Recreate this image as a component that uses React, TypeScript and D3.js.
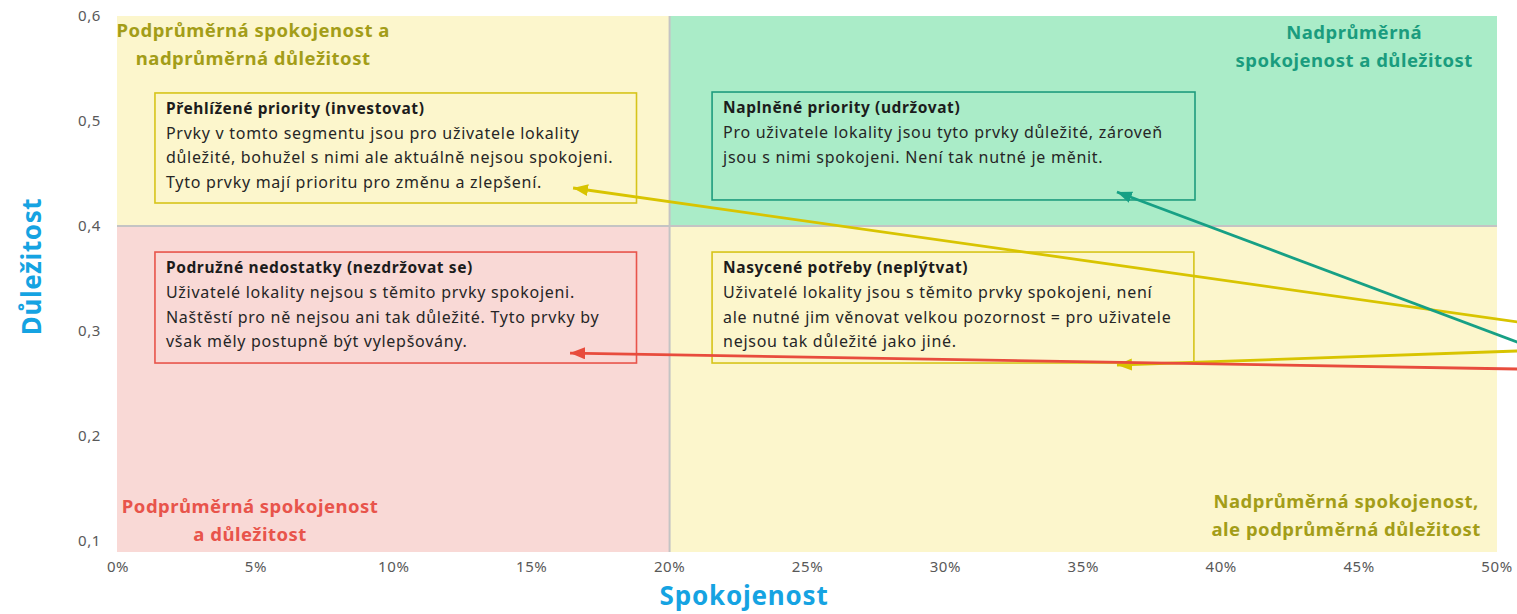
import React from "react";
import * as d3 from "d3";

// ---------- data ----------
const xTicks = [0, 0.05, 0.1, 0.15, 0.2, 0.25, 0.3, 0.35, 0.4, 0.45, 0.5];
const yTicks = [0.1, 0.2, 0.3, 0.4, 0.5, 0.6];
const xDomain = [0, 0.5];
const yDomain = [0.1, 0.6];
const xMid = 0.2; // average satisfaction
const yMid = 0.4; // average importance

const xTitle = "Spokojenost";
const yTitle = "Důležitost";

const quadrantNames = ["tl", "tr", "bl", "br"];
const quadrantLabels = [
  ["Podprůměrná spokojenost a", "nadprůměrná důležitost"],
  ["Nadprůměrná", "spokojenost a důležitost"],
  ["Podprůměrná spokojenost", "a důležitost"],
  ["Nadprůměrná spokojenost,", "ale podprůměrná důležitost"],
];
// label anchors in data units [x center, y first baseline]
const quadrantLabelAnchors = [
  [0.049, 0.58],
  [0.4482, 0.578],
  [0.0479, 0.1267],
  [0.4453, 0.1314],
];

const boxTitles = [
  "Přehlížené priority (investovat)",
  "Naplněné priority (udržovat)",
  "Podružné nedostatky (nezdržovat se)",
  "Nasycené potřeby (neplýtvat)",
];
const boxLines = [
  [
    "Prvky v tomto segmentu jsou pro uživatele lokality",
    "důležité, bohužel s nimi ale aktuálně nejsou spokojeni.",
    "Tyto prvky mají prioritu pro změnu a zlepšení.",
  ],
  [
    "Pro uživatele lokality jsou tyto prvky důležité, zároveň",
    "jsou s nimi spokojeni. Není tak nutné je měnit.",
  ],
  [
    "Uživatelé lokality nejsou s těmito prvky spokojeni.",
    "Naštěstí pro ně nejsou ani tak důležité. Tyto prvky by",
    "však měly postupně být vylepšovány.",
  ],
  [
    "Uživatelé lokality jsou s těmito prvky spokojeni, není",
    "ale nutné jim věnovat velkou pozornost = pro uživatele",
    "nejsou tak důležité jako jiné.",
  ],
];
// box extents in data units [x0, x1, yTop, yBottom]
const boxExtents = [
  [0.0134, 0.188, 0.5267, 0.4219],
  [0.2154, 0.3905, 0.5276, 0.4248],
  [0.0134, 0.188, 0.3752, 0.2695],
  [0.2154, 0.3901, 0.3752, 0.2695],
];

// arrows in data units [fromX, fromY, toX, toY]
const arrowNames = ["yellowTop", "teal", "yellowBottom", "red"];
const arrowCoords = [
  [0.512, 0.3069, 0.165, 0.4362],
  [0.512, 0.2849, 0.3622, 0.4324],
  [0.512, 0.2814, 0.3622, 0.2676],
  [0.512, 0.2636, 0.1639, 0.279],
];

// ---------- styles ----------
const W = 1517;
const H = 614;
const FONT = "'Noto Sans', 'Open Sans', sans-serif";
const quadFill: Record<string, string> = {
  tl: "#fcf6cc",
  tr: "#aaecc8",
  bl: "#f9d9d6",
  br: "#fcf6cc",
};
const quadText: Record<string, string> = {
  tl: "#a39d18",
  tr: "#1a9c7e",
  bl: "#e8544b",
  br: "#a39d18",
};
const boxStroke = ["#d6c41a", "#1e9c7e", "#e8544b", "#d6c41a"];
const arrowColor: Record<string, string> = {
  yellowTop: "#d8c400",
  teal: "#17a085",
  yellowBottom: "#d8c400",
  red: "#e84c3d",
};

export default function App() {
  const x = d3.scaleLinear().domain(xDomain).range([118, 1497]);
  const y = d3.scaleLinear().domain(yDomain).range([541, 16]);
  const plotBottom = y(yDomain[0]) + 11;
  const plotLeft = x(xDomain[0]) - 1;
  const plotRight = x(xDomain[1]);
  const plotTop = y(yDomain[1]);

  const quadRects: Record<string, [number, number, number, number]> = {
    tl: [plotLeft, x(xMid), plotTop, y(yMid)],
    tr: [x(xMid), plotRight, plotTop, y(yMid)],
    bl: [plotLeft, x(xMid), y(yMid), plotBottom],
    br: [x(xMid), plotRight, y(yMid), plotBottom],
  };

  const pct = d3.format(".0%");
  const comma = (v: number) => d3.format(".1f")(v).replace(".", ",");

  const line = d3.line();

  return (
    <div style={{ position: "fixed", left: 0, top: 0 }}>
      <svg width={W} height={H} style={{ display: "block", fontFamily: FONT }}>
        <defs>
          {arrowNames.map((n) => (
            <marker
              key={n}
              id={`ah-${n}`}
              markerUnits="userSpaceOnUse"
              markerWidth={16}
              markerHeight={12}
              refX={15}
              refY={6}
              orient="auto"
            >
              <path d="M0,0 L15,6 L0,12 Z" fill={arrowColor[n]} />
            </marker>
          ))}
        </defs>
        <rect x={0} y={0} width={W} height={H} fill="#ffffff" />

        {/* quadrant backgrounds */}
        {quadrantNames.map((q) => {
          const [x0, x1, y0, y1] = quadRects[q];
          return <rect key={q} x={x0} y={y0} width={x1 - x0} height={y1 - y0} fill={quadFill[q]} />;
        })}

        {/* average lines */}
        <line x1={x(xMid)} x2={x(xMid)} y1={plotTop} y2={plotBottom} stroke="#c4c4c4" strokeWidth={2} />
        <line x1={plotLeft} x2={plotRight} y1={y(yMid)} y2={y(yMid)} stroke="#c4c4c4" strokeWidth={2} />

        {/* quadrant labels */}
        {quadrantNames.map((q, i) => {
          const [cx, cy] = quadrantLabelAnchors[i];
          return (
            <text
              key={q}
              x={x(cx)}
              y={y(cy)}
              textAnchor="middle"
              fontSize={18.5}
              fontWeight={700}
              letterSpacing={0.5}
              fill={quadText[q]}
            >
              {quadrantLabels[i].map((t, j) => (
                <tspan key={j} x={x(cx)} dy={j === 0 ? 0 : 28}>
                  {t}
                </tspan>
              ))}
            </text>
          );
        })}

        {/* annotation boxes */}
        {boxTitles.map((title, i) => {
          const [bx0, bx1, byT, byB] = boxExtents[i];
          const left = x(bx0);
          const top = y(byT);
          return (
            <g key={title}>
              <rect
                x={left}
                y={top}
                width={x(bx1) - left}
                height={y(byB) - top}
                fill="none"
                stroke={boxStroke[i]}
                strokeWidth={1.6}
              />
              <text
                x={left + 11}
                y={top + 21}
                fontSize={15.5}
                fontWeight={700}
                letterSpacing={0.6}
                fill="#1c1c1c"
              >
                {title}
              </text>
              {boxLines[i].map((t, j) => (
                <text
                  key={j}
                  x={left + 11}
                  y={top + 46 + j * 24.5}
                  fontSize={16}
                  letterSpacing={0.72}
                  fill="#262626"
                >
                  {t}
                </text>
              ))}
            </g>
          );
        })}

        {/* arrows */}
        {arrowNames.map((n, i) => {
          const [fx, fy, tx, ty] = arrowCoords[i];
          const p0: [number, number] = [x(fx), y(fy)];
          const p1: [number, number] = [x(tx), y(ty)];
          return (
            <path
              key={n}
              d={line([p0, p1]) || ""}
              stroke={arrowColor[n]}
              strokeWidth={2.8}
              fill="none"
              markerEnd={`url(#ah-${n})`}
            />
          );
        })}

        {/* y tick labels */}
        {yTicks.map((t) => (
          <text
            key={t}
            x={101}
            y={y(t)}
            dy="0.35em"
            textAnchor="end"
            fontSize={15}
            letterSpacing={0.6}
            fill="#595959"
          >
            {comma(t)}
          </text>
        ))}
        {/* x tick labels */}
        {xTicks.map((t) => (
          <text
            key={t}
            x={x(t)}
            y={plotBottom + 15}
            dy="0.35em"
            textAnchor="middle"
            fontSize={15}
            letterSpacing={0.6}
            fill="#595959"
          >
            {pct(t)}
          </text>
        ))}

        {/* axis titles */}
        <text
          x={x(0.227)}
          y={596}
          dy="0.35em"
          textAnchor="middle"
          fontSize={26}
          fontWeight={700}
          letterSpacing={0.8}
          fill="#15a3e2"
        >
          {xTitle}
        </text>
        <text
          transform={`translate(32, ${y(0.3614)}) rotate(-90)`}
          dy="0.35em"
          textAnchor="middle"
          fontSize={26}
          fontWeight={700}
          letterSpacing={0.6}
          fill="#15a3e2"
        >
          {yTitle}
        </text>
      </svg>
    </div>
  );
}
